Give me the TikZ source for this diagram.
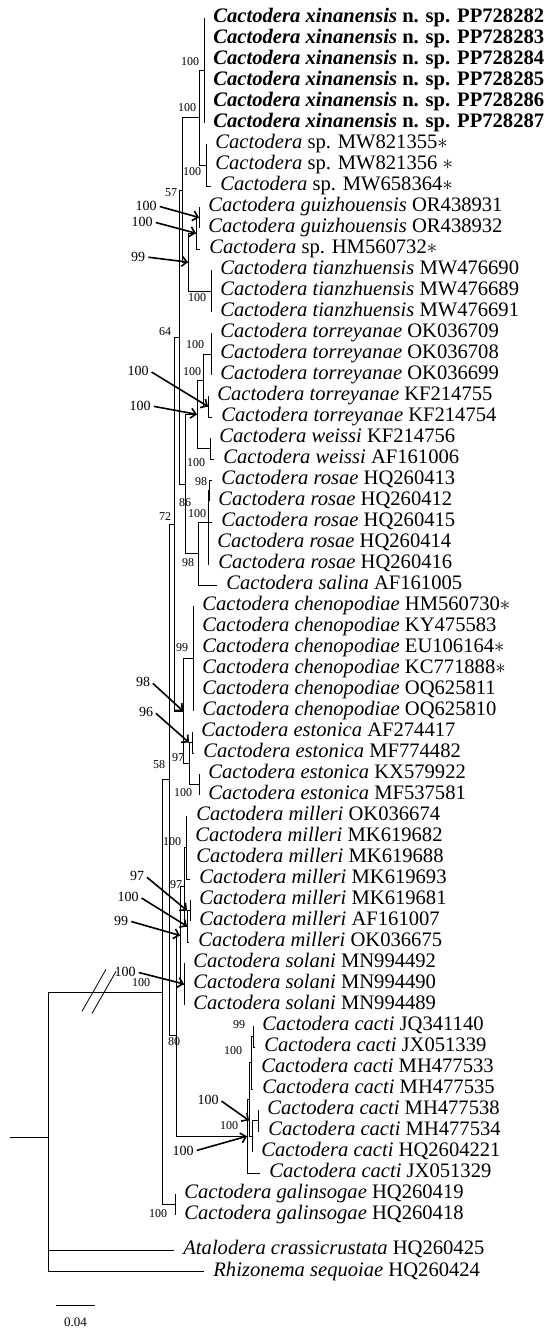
\documentclass[tikz,border=0pt]{standalone}
\usepackage{fontspec}
\setmainfont{Liberation Serif}
\usetikzlibrary{arrows.meta}
\newcommand{\ctd}[1]{\textit{Cactodera #1}}

\begin{document}
\begin{tikzpicture}[
	x=1pt, y=-21pt,
	line width=0.8pt,
	leaf/.style={anchor=west, inner xsep=9pt, inner ysep=0pt, text height=12pt, text depth=2.6pt, font=\fontsize{20.6}{21}\selectfont},
	boot/.style={inner sep=0pt, font=\fontsize{12}{13}\selectfont},
	bootcall/.style={inner sep=1pt, font=\fontsize{14}{15}\selectfont},
	pointer/.style={-{Straight Barb[length=5pt,width=10pt]}, line width=1.6pt, shorten <=2pt}
]
\useasboundingbox (0,0.1429) rectangle (555,63.524);

\node[leaf] (l1) at (204,1) {\textbf{\ctd{xinanensis} n. sp. PP728282}};
\node[leaf] (l2) at (204,2) {\textbf{\ctd{xinanensis} n. sp. PP728283}};
\node[leaf] (l3) at (204,3) {\textbf{\ctd{xinanensis} n. sp. PP728284}};
\node[leaf] (l4) at (204,4) {\textbf{\ctd{xinanensis} n. sp. PP728285}};
\node[leaf] (l5) at (204,5) {\textbf{\ctd{xinanensis} n. sp. PP728286}};
\node[leaf] (l6) at (204,6) {\textbf{\ctd{xinanensis} n. sp. PP728287}};
\node[leaf] (l7) at (206,7) {\textit{Cactodera} sp. MW821355$\ast$};
\node[leaf] (l8) at (206,8) {\textit{Cactodera} sp. MW821356 $\ast$};
\node[leaf] (l9) at (211,9) {\textit{Cactodera} sp. MW658364$\ast$};
\node[leaf] (l10) at (199,10) {\ctd{guizhouensis} OR438931};
\node[leaf] (l11) at (199,11) {\ctd{guizhouensis} OR438932};
\node[leaf] (l12) at (200,12) {\textit{Cactodera} sp. HM560732$\ast$};
\node[leaf] (l13) at (211,13) {\ctd{tianzhuensis} MW476690};
\node[leaf] (l14) at (211,14) {\ctd{tianzhuensis} MW476689};
\node[leaf] (l15) at (211,15) {\ctd{tianzhuensis} MW476691};
\node[leaf] (l16) at (211,16) {\ctd{torreyanae} OK036709};
\node[leaf] (l17) at (211,17) {\ctd{torreyanae} OK036708};
\node[leaf] (l18) at (211,18) {\ctd{torreyanae} OK036699};
\node[leaf] (l19) at (208,19) {\ctd{torreyanae} KF214755};
\node[leaf] (l20) at (212,20) {\ctd{torreyanae} KF214754};
\node[leaf] (l21) at (210,21) {\ctd{weissi} KF214756};
\node[leaf] (l22) at (214,22) {\ctd{weissi} AF161006};
\node[leaf] (l23) at (212,23) {\ctd{rosae} HQ260413};
\node[leaf] (l24) at (209,24) {\ctd{rosae} HQ260412};
\node[leaf] (l25) at (212,25) {\ctd{rosae} HQ260415};
\node[leaf] (l26) at (208,26) {\ctd{rosae} HQ260414};
\node[leaf] (l27) at (209,27) {\ctd{rosae} HQ260416};
\node[leaf] (l28) at (217,28) {\ctd{salina} AF161005};
\node[leaf] (l29) at (193,29) {\ctd{chenopodiae} HM560730$\ast$};
\node[leaf] (l30) at (193,30) {\ctd{chenopodiae} KY475583};
\node[leaf] (l31) at (193,31) {\ctd{chenopodiae} EU106164$\ast$};
\node[leaf] (l32) at (193,32) {\ctd{chenopodiae} KC771888$\ast$};
\node[leaf] (l33) at (193,33) {\ctd{chenopodiae} OQ625811};
\node[leaf] (l34) at (193,34) {\ctd{chenopodiae} OQ625810};
\node[leaf] (l35) at (192,35) {\ctd{estonica} AF274417};
\node[leaf] (l36) at (194,36) {\ctd{estonica} MF774482};
\node[leaf] (l37) at (199,37) {\ctd{estonica} KX579922};
\node[leaf] (l38) at (199,38) {\ctd{estonica} MF537581};
\node[leaf] (l39) at (187,39) {\ctd{milleri} OK036674};
\node[leaf] (l40) at (186,40) {\ctd{milleri} MK619682};
\node[leaf] (l41) at (187,41) {\ctd{milleri} MK619688};
\node[leaf] (l42) at (190,42) {\ctd{milleri} MK619693};
\node[leaf] (l43) at (190,43) {\ctd{milleri} MK619681};
\node[leaf] (l44) at (190,44) {\ctd{milleri} AF161007};
\node[leaf] (l45) at (189,45) {\ctd{milleri} OK036675};
\node[leaf] (l46) at (184,46) {\ctd{solani} MN994492};
\node[leaf] (l47) at (184,47) {\ctd{solani} MN994490};
\node[leaf] (l48) at (184,48) {\ctd{solani} MN994489};
\node[leaf] (l49) at (253,49) {\ctd{cacti} JQ341140};
\node[leaf] (l50) at (255,50) {\ctd{cacti} JX051339};
\node[leaf] (l51) at (252,51) {\ctd{cacti} MH477533};
\node[leaf] (l52) at (253,52) {\ctd{cacti} MH477535};
\node[leaf] (l53) at (258,53) {\ctd{cacti} MH477538};
\node[leaf] (l54) at (259,54) {\ctd{cacti} MH477534};
\node[leaf] (l55) at (252,55) {\ctd{cacti} HQ2604221};
\node[leaf] (l56) at (260,56) {\ctd{cacti} JX051329};
\node[leaf] (l57) at (175,57) {\ctd{galinsogae} HQ260419};
\node[leaf] (l58) at (175,58) {\ctd{galinsogae} HQ260418};
\node[leaf] (l59) at (174,59.67) {\textit{Atalodera crassicrustata} HQ260425};
\node[leaf] (l60) at (204,60.69) {\textit{Rhizonema sequoiae} HQ260424};

\coordinate (X) at (204,3.5);
\coordinate (S) at (206,8);
\coordinate (XS) at (199,5.75);
\coordinate (G) at (199,10.5);
\coordinate (GH) at (196,11.25);
\coordinate (T) at (211,14);
\coordinate (GT) at (188,12.625);
\coordinate (P1) at (182,9.1875);
\coordinate (Tor1) at (211,17);
\coordinate (Tor2) at (208,19.5);
\coordinate (Tor) at (203,18.25);
\coordinate (W) at (210,21.5);
\coordinate (TW) at (197,19.875);
\coordinate (R1) at (209,23.5);
\coordinate (R) at (208,25);
\coordinate (RS) at (198,26.5);
\coordinate (TWRS) at (185,23.1875);
\coordinate (P2) at (179,16.1875);
\coordinate (Ch) at (193,31.5);
\coordinate (E1) at (192,35.5);
\coordinate (E2) at (199,37.5);
\coordinate (E) at (189,36.5);
\coordinate (CE) at (183,34);
\coordinate (P3) at (174,25.094);
\coordinate (M1) at (186,40.5);
\coordinate (M2) at (190,43.5);
\coordinate (M3) at (187,44.25);
\coordinate (M) at (184,42.375);
\coordinate (So) at (184,47);
\coordinate (MS) at (180,44.6875);
\coordinate (Ca1a) at (253,49.5);
\coordinate (Ca1) at (251,50.75);
\coordinate (Ca3a) at (258,53.5);
\coordinate (Ca3) at (252,54.25);
\coordinate (Ca2) at (249,52.5);
\coordinate (Ca) at (247,54.25);
\coordinate (P6) at (176,49.47);
\coordinate (P4) at (169,37.28);
\coordinate (Ga) at (175,57.5);
\coordinate (N0) at (162,47.39);
\coordinate (root) at (48,54.29);
\coordinate (base) at (10,54.29);

\foreach \p/\c in {XS/X, XS/S, P1/XS, GH/G, GT/GH, GT/T, P1/GT, P2/P1, Tor/Tor1, Tor/Tor2, TW/Tor, TW/W, R/R1, RS/R, TWRS/TW, TWRS/RS, P2/TWRS, P3/P2, CE/Ch, E/E1, E/E2, CE/E, P3/CE, M/M1, M3/M2, M/M3, MS/M, MS/So, Ca1/Ca1a, Ca3/Ca3a, Ca2/Ca1, Ca2/Ca3, Ca/Ca2, P6/MS, P6/Ca, P4/P3, P4/P6, N0/P4, N0/Ga, root/N0}
	\draw (\p) |- (\c);
\foreach \p/\n in {X/1, X/2, X/3, X/4, X/5, X/6, S/7, S/8, S/9, G/10, G/11, GH/12, T/13, T/14, T/15, Tor1/16, Tor1/17, Tor1/18, Tor2/19, Tor2/20, W/21, W/22, R1/23, R1/24, R/25, R/26, R/27, RS/28, Ch/29, Ch/30, Ch/31, Ch/32, Ch/33, Ch/34, E1/35, E1/36, E2/37, E2/38, M1/39, M1/40, M1/41, M1/42, M2/43, M2/44, M3/45, So/46, So/47, So/48, Ca1a/49, Ca1a/50, Ca1/51, Ca1/52, Ca3a/53, Ca3a/54, Ca3/55, Ca/56, Ga/57, Ga/58, root/59, root/60}
	\draw (\p) |- (l\n.west);
\draw (base) -- (root);
\draw (82,48.3) -- (106,46.3);
\draw (92,48.4) -- (116,46.4);

\node[boot] (bX) at (190,3.095) {100};
\node[boot] (bXS) at (187,5.286) {100};
\node[boot] (bS) at (192,8.333) {100};
\node[boot] (bP1) at (171,9.333) {57};
\node[boot] (bT) at (197,14.333) {100};
\node[boot] (bP2) at (165,15.952) {64};
\node[boot] (bTor1) at (195,16.571) {100};
\node[boot] (bTor) at (192,17.857) {100};
\node[boot] (bW) at (196,22.19) {100};
\node[boot] (bR1) at (201,23.095) {98};
\node[boot] (bR) at (197,24.62) {100};
\node[boot] (bTWRS) at (185,24.095) {86};
\node[boot] (bRS) at (188,26.952) {98};
\node[boot] (bP3) at (165,24.762) {72};
\node[boot] (bCh) at (182,31) {99};
\node[boot] (bE) at (178,36.238) {97};
\node[boot] (bE2) at (183,37.905) {100};
\node[boot] (bP4) at (159,36.571) {58};
\node[boot] (bM1) at (172,40.238) {100};
\node[boot] (bM) at (176,42.286) {97};
\node[boot] (bP6) at (174,49.762) {80};
\node[boot] (bGa) at (158,57.952) {100};
\node[boot] (bN0) at (141,46.952) {100};
\node[boot] (bCa1a) at (239,48.952) {99};
\node[boot] (bCa1) at (233,50.19) {100};
\node[boot] (bCa) at (229,53.762) {100};

\node[bootcall] (cG) at (146,9.952) {100};
\node[bootcall] (cGH) at (142,10.714) {100};
\node[bootcall] (cGT) at (138,12.381) {99};
\node[bootcall] (cTor2) at (138,17.81) {100};
\node[bootcall] (cTW) at (140,19.476) {100};
\node[bootcall] (cCE) at (143,32.619) {98};
\node[bootcall] (cE1) at (146,34.048) {96};
\node[bootcall] (cM2) at (137,41.857) {97};
\node[bootcall] (cM3) at (128,42.857) {100};
\node[bootcall] (cMS) at (121,44) {99};
\node[bootcall] (cSo) at (125,46.43) {100};
\node[bootcall] (cCa3) at (208,52.52) {100};
\node[bootcall] (cCa) at (183,54.95) {100};
\draw[pointer] (cG.east) -- (G);
\draw[pointer] (cGH.east) -- (GH);
\draw[pointer] (cGT.east) -- (GT);
\draw[pointer] (cTor2.east) -- (Tor2);
\draw[pointer] (cTW.east) -- (TW);
\draw[pointer] (cCE.east) -- (CE);
\draw[pointer] (cE1.east) -- (E |- E1);
\draw[pointer] (cM2.east) -- (M3 |- M2);
\draw[pointer] (cM3.east) -- (M3);
\draw[pointer] (cMS.east) -- (MS);
\draw[pointer] (cSo.east) -- (So);
\draw[pointer] (cCa3.east) -- (Ca2 |- Ca3a);
\draw[pointer] (cCa.east) -- (Ca);

\coordinate (sbL) at (56,62.29);
\coordinate (sbR) at (95,62.29);
\draw (sbL) -- (sbR);
\node[font=\fontsize{13}{14}\selectfont] (sbT) at (75.5,63.1) {0.04};
\end{tikzpicture}
\end{document}
